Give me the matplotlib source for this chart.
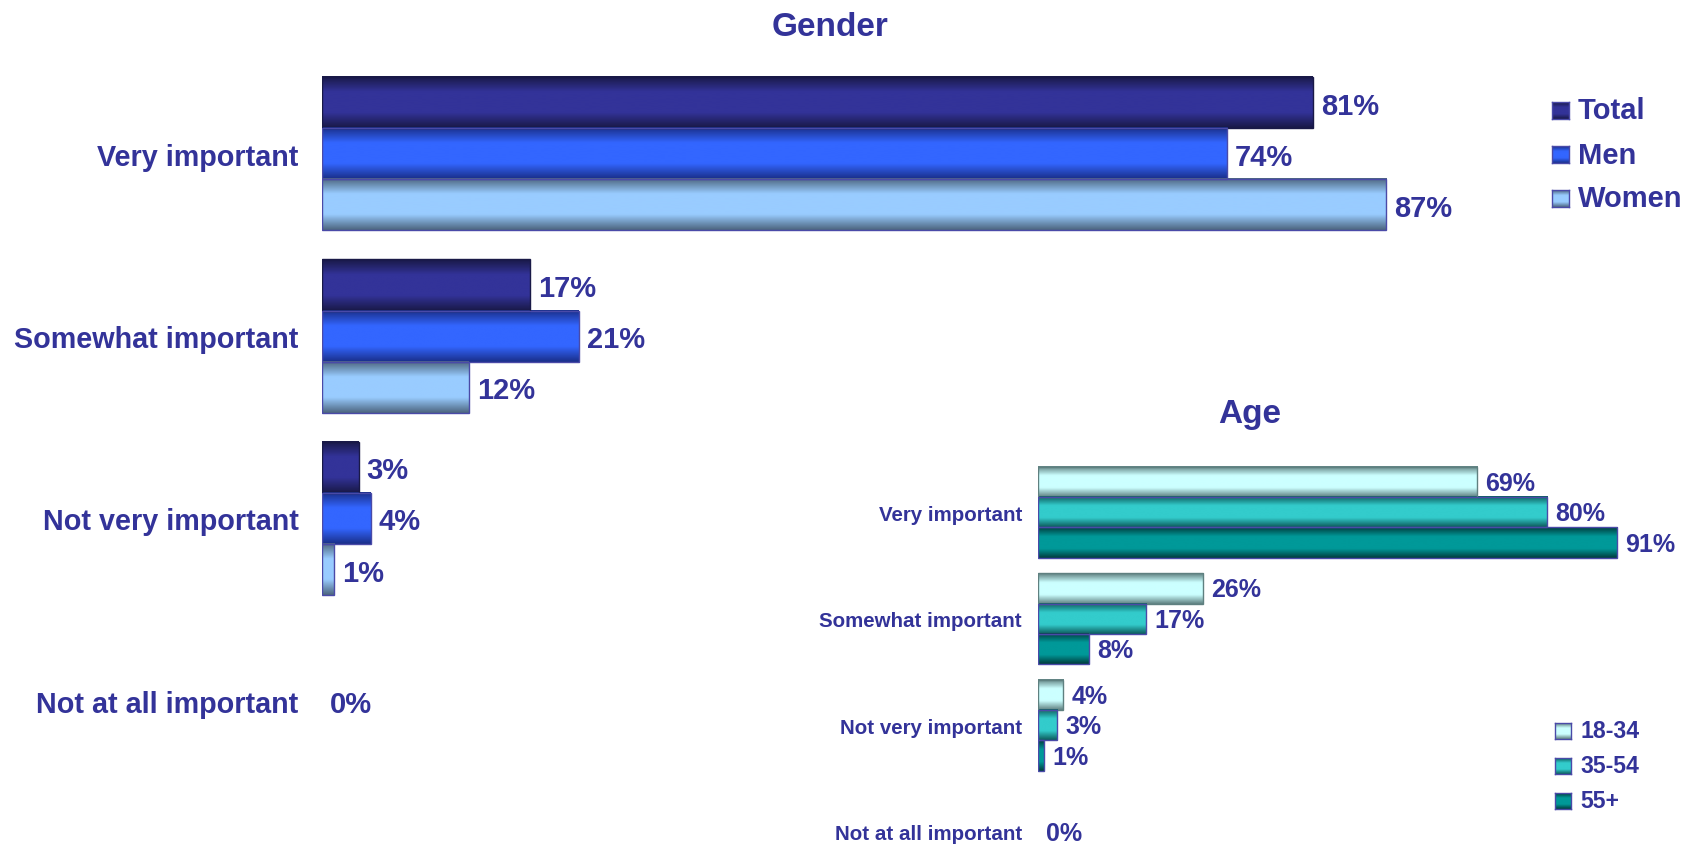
# Importance ratings by gender and by age, gradient bars
import numpy as np
import matplotlib
matplotlib.use("Agg")
import matplotlib.pyplot as plt
from matplotlib.colors import LinearSegmentedColormap

categories = ["Very important", "Somewhat important", "Not very important", "Not at all important"]

gender_series = ["Total", "Men", "Women"]
gender_total = [81, 17, 3, 0]
gender_men = [74, 21, 4, 0]
gender_women = [87, 12, 1, 0]

age_series = ["18-34", "35-54", "55+"]
age_18_34 = [69, 26, 4, 0]
age_35_54 = [80, 17, 3, 0]
age_55 = [91, 8, 1, 0]

gender_colors = [("#191947", "#333399"), ("#1a2f8a", "#3366ff"), ("#4d6680", "#99ccff")]
age_colors = [("#5f8080", "#ccffff"), ("#0d5c5c", "#33cccc"), ("#003d3d", "#009999")]

TXT = "#333399"
FONT = "Liberation Sans"
W, H = 1694, 845

fig = plt.figure(figsize=(W / 100, H / 100), dpi=100)
plt.rcParams["font.family"] = [FONT, "DejaVu Sans"]
plt.rcParams["font.weight"] = "bold"


def grad_cmap(dark, mid):
    return LinearSegmentedColormap.from_list("g", [(0, dark), (0.3, mid), (0.7, mid), (1, dark)])


GRAD = np.linspace(0, 1, 64).reshape(-1, 1)


def draw_chart(ax, series, colors, ylim, bar_h, cat_size, val_size, pad, dy):
    n = len(series)
    for i, (vals, (dark, mid)) in enumerate(zip(series, colors)):
        pos = np.arange(len(categories)) + (i - (n - 1) / 2) * bar_h
        keep = [k for k, v in enumerate(vals) if v > 0]
        ax.barh(pos[keep], [vals[k] for k in keep], height=bar_h, facecolor="none",
                edgecolor="#4a4aa8" if i else dark, linewidth=1, zorder=3)
        for k in keep:
            y = pos[k]
            ax.imshow(GRAD, extent=(0, vals[k], y + bar_h / 2, y - bar_h / 2), aspect="auto",
                      cmap=grad_cmap(dark, mid), interpolation="bicubic", zorder=2)
    for c in range(len(categories)):
        cat_vals = [s[c] for s in series]
        for i, v in enumerate(cat_vals):
            # an all-zero row gets one label in the middle
            if max(cat_vals) == 0 and i != (n - 1) // 2:
                continue
            y = c + (i - (n - 1) / 2) * bar_h
            ax.annotate(f"{v}%", xy=(v, y), xytext=(8, dy), textcoords="offset pixels",
                        va="center", ha="left", fontsize=val_size, color=TXT, fontweight="bold")
    ax.set_xlim(0, 100)
    ax.set_ylim(*ylim)
    ax.set_yticks(range(len(categories)), categories)
    ax.tick_params(axis="y", length=0, pad=pad, labelsize=cat_size, labelcolor=TXT)
    ax.set_xticks([])
    for s in ax.spines.values():
        s.set_visible(False)
    ax.patch.set_alpha(0)


ax1 = fig.add_axes([322 / W, (H - 793) / H, 1223 / W, 729.5 / H])
draw_chart(ax1, [gender_total, gender_men, gender_women], gender_colors,
           (3.5, -0.5), 0.28, 20.7, 21, 17, -3)

ax2 = fig.add_axes([1038 / W, 0, 636.5 / W, 385 / H])
draw_chart(ax2, [age_18_34, age_35_54, age_55], age_colors,
           (3.5 - 41 / 106.5, -0.5), 0.286, 14.8, 18, 11.5, -1)

fig.text(830 / W, 1 - 28 / H, "Gender", ha="center", va="center", fontsize=24,
         color=TXT, fontweight="bold")
fig.text(1250 / W, 1 - 415 / H, "Age", ha="center", va="center", fontsize=24,
         color=TXT, fontweight="bold")


def legend(names, colors, x, ys, sq, size):
    for name, (dark, mid), y in zip(names, colors, ys):
        lax = fig.add_axes([x / W, 1 - (y + sq / 2) / H, sq / W, sq / H])
        lax.imshow(GRAD, aspect="auto", cmap=grad_cmap(dark, mid), interpolation="bicubic")
        lax.set_xticks([])
        lax.set_yticks([])
        for s in lax.spines.values():
            s.set_color("#4a4aa8")
            s.set_linewidth(1)
        fig.text((x + sq + 9) / W, 1 - y / H, name, ha="left", va="center",
                 fontsize=size, color=TXT, fontweight="bold")


legend(gender_series, gender_colors, 1552, [111, 155.5, 199], 17, 21)
legend(age_series, age_colors, 1555, [732, 767, 802], 16, 16.6)

plt.savefig("out.png", dpi=100)
